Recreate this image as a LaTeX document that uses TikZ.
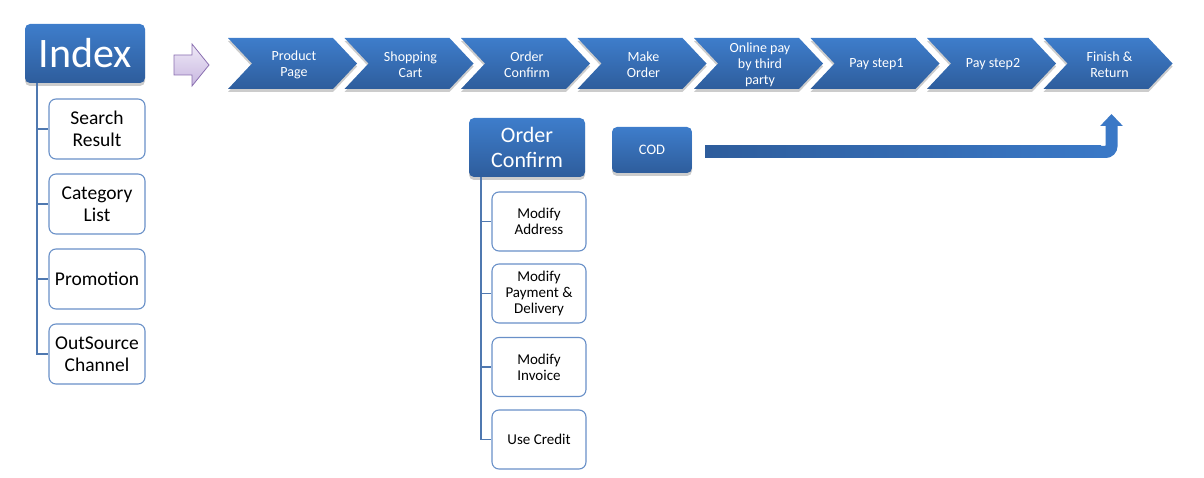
\documentclass[tikz,border=0pt]{standalone}
\usepackage{fontspec}
\setmainfont{Carlito}
\usetikzlibrary{calc,shadows,arrows.meta}
\definecolor{blueup}{HTML}{3E7DCB}
\definecolor{bluedown}{HTML}{2E5D9C}
\definecolor{bluerim}{HTML}{6990C8}
\definecolor{treeblue}{HTML}{4F78B0}
\definecolor{lilaup}{HTML}{EFE9F7}
\definecolor{liladown}{HTML}{C8B7E0}
\definecolor{lilarim}{HTML}{8A6FB0}
\definecolor{codblue}{HTML}{3A78C6}
\tikzset{
  shade/.style={drop shadow={shadow xshift=0pt,shadow yshift=-3pt,opacity=.2,fill=black}},
  headbox/.style={shade,rounded corners=5pt,top color=blueup,bottom color=bluedown,
    text=white,align=center,inner sep=0pt},
  leafbox/.style={draw=bluerim,line width=1.1pt,fill=white,rounded corners=7pt,
    align=center,inner sep=0pt},
  chev/.style={shade,top color=blueup,bottom color=bluedown},
  chevtext/.style={text=white,align=center,inner sep=0pt,
    font=\fontsize{14}{16}\selectfont},
  branch/.style={treeblue,line width=1.5pt},
}
\begin{document}
\begin{tikzpicture}[x=1pt,y=-1pt] % Seitenfluss Shop
\useasboundingbox (0,0) rectangle (1204,478);
% linke Spalte
\node[headbox,minimum width=120pt,minimum height=59pt,font=\fontsize{42}{44}\selectfont]
  (index) at (85,53.5) {Index};
\foreach \t/\y/\n in {{Search\\Result}/129/search,{Category\\List}/204/category,
                      {Promotion}/279/promo,{OutSource\\Channel}/354/outsrc}{
  \node[leafbox,minimum width=96pt,minimum height=60pt,font=\fontsize{19.5}{22}\selectfont]
    (\n) at (97,\y) {\t};
  \draw[branch] ([xshift=12pt]index.south west) |- (\n.west);
}
% Pfeil
\draw[lilarim,line width=.8pt,top color=lilaup,bottom color=liladown]
  (174,55) -- (192,55) -- (192,44) -- (209,65) -- (192,86) -- (192,75) -- (174,75) -- cycle;
% Schritte
\foreach \t [count=\i] in {{Product\\Page},{Shopping\\Cart},{Order\\Confirm},{Make\\Order},
    {Online pay\\by third\\party},{Pay step1},{Pay step2},{Finish \&\\Return}}{
  \pgfmathsetmacro\x{228+(\i-1)*116.5}
  \path[chev] (\x,38) -- ++(105,0) -- ++(24,25.5) -- ++(-24,25.5) -- ++(-105,0)
    -- ++(24,-25.5) -- cycle;
  \node[chevtext] (s\i) at (\x+66,64.5) {\t};
  \coordinate (b\i) at (\x+64.5,89);
}
% Order Confirm
\node[headbox,minimum width=116pt,minimum height=59pt,font=\fontsize{22}{25}\selectfont]
  (oconf) at (527,147.5) {Order\\Confirm};
\foreach \t/\y/\n in {{Modify\\Address}/221.5/maddr,{Modify\\Payment \&\\Delivery}/293.5/mpay,
                      {Modify\\Invoice}/367/minv,{Use Credit}/439.5/credit}{
  \node[leafbox,minimum width=94pt,minimum height=59pt,font=\fontsize{15}{16}\selectfont]
    (\n) at (539,\y) {\t};
  \draw[branch] ([xshift=12pt]oconf.south west) |- (\n.west);
}
% COD
\node[headbox,minimum width=80pt,minimum height=46pt,font=\fontsize{14.5}{16}\selectfont]
  (cod) at (652,150) {COD};
\coordinate (codout) at ($(cod.east)+(13,2)$);
\coordinate (finin) at ($(b8)+(3.5,25)$);
\draw[codblue,line width=12pt,rounded corners=6pt,-{Triangle[width=22pt,length=12pt]}]
  (codout) -| (finin);
\fill[left color=bluedown,right color=codblue] ($(codout)+(0,-6)$) rectangle ($(codout)+(396,6)$);
\end{tikzpicture}
\end{document}
